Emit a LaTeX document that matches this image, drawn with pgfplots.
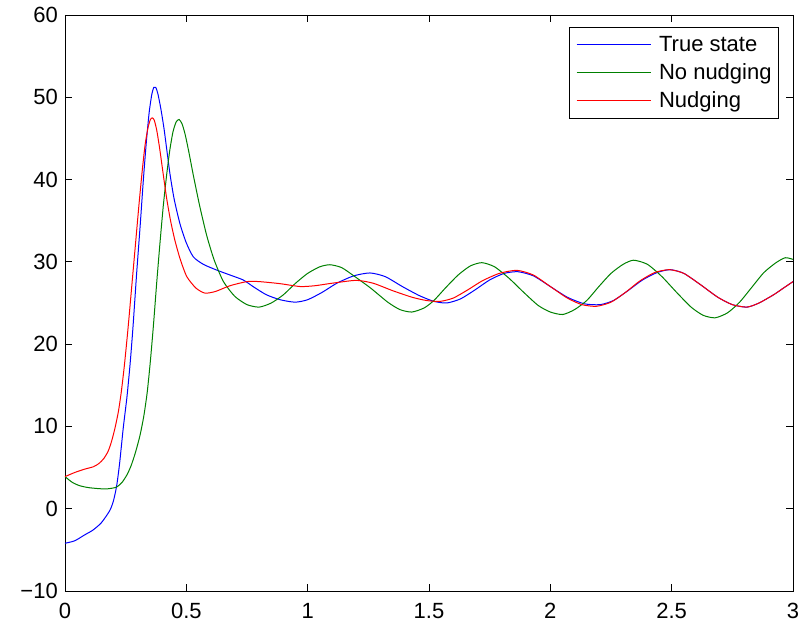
\documentclass[border=0pt]{standalone}
\usepackage{fontspec}
\setmainfont{Liberation Sans}
\usepackage{pgfplots}
\pgfplotsset{compat=1.18}

\definecolor{mblue}{rgb}{0,0,1}
\definecolor{mgreen}{rgb}{0,0.5,0}
\definecolor{mred}{rgb}{1,0,0}

\begin{document}
\begin{tikzpicture}
\begin{axis}[
    width=728pt, height=576pt, scale only axis,
    xmin=0, xmax=3, ymin=-10, ymax=60,
    xtick={0,0.5,1,1.5,2,2.5,3},
    xticklabels={0,0.5,1,1.5,2,2.5,3},
    ytick={-10,0,10,20,30,40,50,60},
    yticklabels={−10,0,10,20,30,40,50,60},
    tick align=inside,
    major tick length=7pt,
    tick style={black, line width=0.8pt},
    axis line style={black, line width=0.8pt},
    tick label style={font=\fontsize{22}{26}\selectfont, inner sep=0pt},
    yticklabel style={xshift=-7pt},
    xticklabel style={yshift=-12pt},
    legend cell align=left,
    legend style={at={(1,1)}, anchor=north east, xshift=-14pt, yshift=-12pt,
        draw=black, line width=0.8pt, font=\fontsize{22}{26}\selectfont,
        inner xsep=7pt, inner ysep=9pt, row sep=10.5pt, column sep=8pt,
        nodes={inner sep=0pt}},
    legend image code/.code={%
        \path (0pt,0pt) -- (74pt,0pt);
        \draw[#1, line width=1pt] (7pt,0pt) -- (74pt,0pt);},
    clip=true,
]
\addplot[mblue, line width=1pt, smooth, tension=0.4] coordinates {
(0,-4.2) (0.04,-3.9) (0.08,-3.2) (0.115,-2.6) (0.15,-1.7) (0.185,-0.2) (0.2,1.0)
(0.213,2.8) (0.225,5.5) (0.24,9.8) (0.255,13.5) (0.268,17.5) (0.28,22) (0.295,28.5)
(0.31,34.5) (0.323,40) (0.335,44.5) (0.347,48.2) (0.358,50.4) (0.366,51.2) (0.374,51.2)
(0.383,50.4) (0.395,48.6) (0.408,46.2) (0.42,43.5) (0.433,40.6) (0.45,37.6) (0.474,34.6)
(0.5,32.3) (0.529,30.6) (0.57,29.7) (0.625,29.0) (0.68,28.4) (0.734,27.8) (0.78,26.9)
(0.83,26.0) (0.886,25.4) (0.948,25.1)
(1.0,25.4) (1.06,26.3) (1.12,27.4) (1.19,28.3) (1.257,28.65) (1.32,28.2) (1.39,27.0)
(1.46,25.9) (1.52,25.2) (1.573,25.0) (1.63,25.5) (1.69,26.6) (1.75,27.8) (1.81,28.6)
(1.867,28.8) (1.93,28.3) (2.0,27.0) (2.07,25.7) (2.14,24.9) (2.205,24.8) (2.26,25.3)
(2.32,26.5) (2.38,27.8) (2.44,28.7) (2.494,29.05) (2.55,28.6) (2.62,27.2) (2.69,25.7)
(2.75,24.8) (2.81,24.5) (2.86,25.0) (2.92,26.0) (2.96,26.8) (3.0,27.6)
};
\addlegendentry{True state}
\addplot[mgreen, line width=1pt, smooth, tension=0.4] coordinates {
(0,3.9) (0.03,3.2) (0.06,2.8) (0.1,2.55) (0.165,2.4) (0.21,2.6) (0.235,3.2) (0.255,4.1)
(0.272,5.2) (0.29,6.8) (0.309,8.9) (0.325,11.3) (0.339,14.2) (0.352,18) (0.365,22.5)
(0.378,27.5) (0.392,32.5) (0.405,36.8) (0.419,40.6) (0.432,43.6) (0.445,45.8) (0.458,47.0)
(0.47,47.3) (0.482,46.8) (0.495,45.5) (0.51,43.4) (0.529,40.5) (0.555,36.8) (0.584,33.2)
(0.615,30.2) (0.653,27.6) (0.7,25.8) (0.75,24.8) (0.80,24.5) (0.85,25.0) (0.9,26.0)
(0.95,27.4) (1.0,28.6) (1.05,29.4) (1.092,29.65)
(1.14,29.3) (1.19,28.3) (1.26,26.8) (1.33,25.1) (1.38,24.2) (1.429,23.9) (1.48,24.4)
(1.52,25.3) (1.57,26.9) (1.62,28.4) (1.67,29.5) (1.718,29.9) (1.77,29.4) (1.83,28.0)
(1.89,26.3) (1.95,24.7) (2.0,23.9) (2.051,23.6) (2.1,24.2) (2.15,25.3) (2.2,27.0)
(2.25,28.6) (2.3,29.7) (2.343,30.2) (2.4,29.7) (2.46,28.2) (2.52,26.3) (2.58,24.5)
(2.63,23.5) (2.679,23.2) (2.73,23.8) (2.78,25.1) (2.83,26.9) (2.88,28.7) (2.93,29.9)
(2.968,30.5) (3.0,30.3)
};
\addlegendentry{No nudging}
\addplot[mred, line width=1pt, smooth, tension=0.4] coordinates {
(0,3.9) (0.04,4.4) (0.08,4.8) (0.117,5.1) (0.14,5.5) (0.16,6.1) (0.178,7.0) (0.192,8.2)
(0.206,9.8) (0.22,11.8) (0.232,14.2) (0.245,17.5) (0.26,22) (0.275,27) (0.29,32)
(0.305,37) (0.318,41) (0.33,44.2) (0.342,46.3) (0.352,47.3) (0.36,47.5) (0.368,47.2)
(0.378,46) (0.39,43.8) (0.405,40.6) (0.419,37.7) (0.435,35.0) (0.453,32.6) (0.475,30.3)
(0.502,28.2) (0.54,26.8) (0.577,26.2) (0.62,26.4) (0.68,27.1) (0.75,27.6) (0.8,27.6)
(0.886,27.35) (0.969,27.0) (1.03,27.1) (1.1,27.4)
(1.2,27.75) (1.27,27.4) (1.35,26.5) (1.43,25.7) (1.49,25.3) (1.546,25.2) (1.6,25.6)
(1.66,26.6) (1.72,27.7) (1.79,28.6) (1.862,28.97) (1.93,28.4) (2.0,27.0) (2.07,25.6)
(2.13,24.8) (2.19,24.6) (2.25,25.1) (2.31,26.3) (2.37,27.7) (2.43,28.7) (2.49,29.05)
(2.55,28.6) (2.62,27.2) (2.69,25.7) (2.75,24.8) (2.81,24.5) (2.86,25.0) (2.92,26.0)
(2.96,26.8) (3.0,27.6)
};
\addlegendentry{Nudging}
\end{axis}
\path ([shift={(-65pt,-33pt)}]current axis.south west) rectangle ([shift={(14pt,15pt)}]current axis.north east);
\end{tikzpicture}
\end{document}
